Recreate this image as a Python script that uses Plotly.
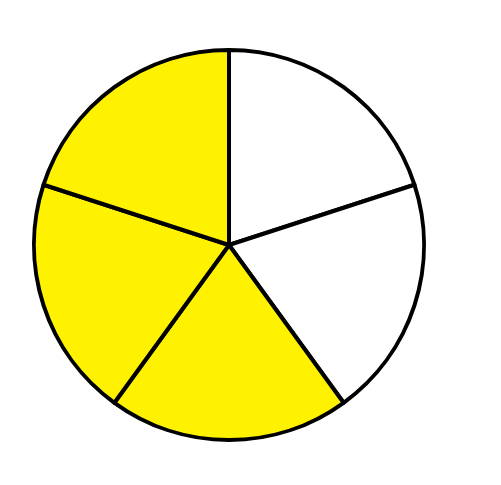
import plotly.graph_objects as go

labels = ["A", "B", "C", "D", "E"]
values = [1, 1, 1, 1, 1]
colors = ["#ffffff", "#ffffff", "#fff200", "#fff200", "#fff200"]

fig = go.Figure(go.Pie(
    labels=labels,
    values=values,
    sort=False,
    direction="clockwise",
    rotation=0,
    marker=dict(colors=colors, line=dict(color="#000000", width=4)),
    textinfo="none",
    hoverinfo="none",
    showlegend=False,
))
fig.update_layout(
    width=501, height=485,
    margin=dict(l=26, r=85, t=42, b=53),
    paper_bgcolor="white", plot_bgcolor="white",
    showlegend=False,
)
fig.write_html("out.html")
